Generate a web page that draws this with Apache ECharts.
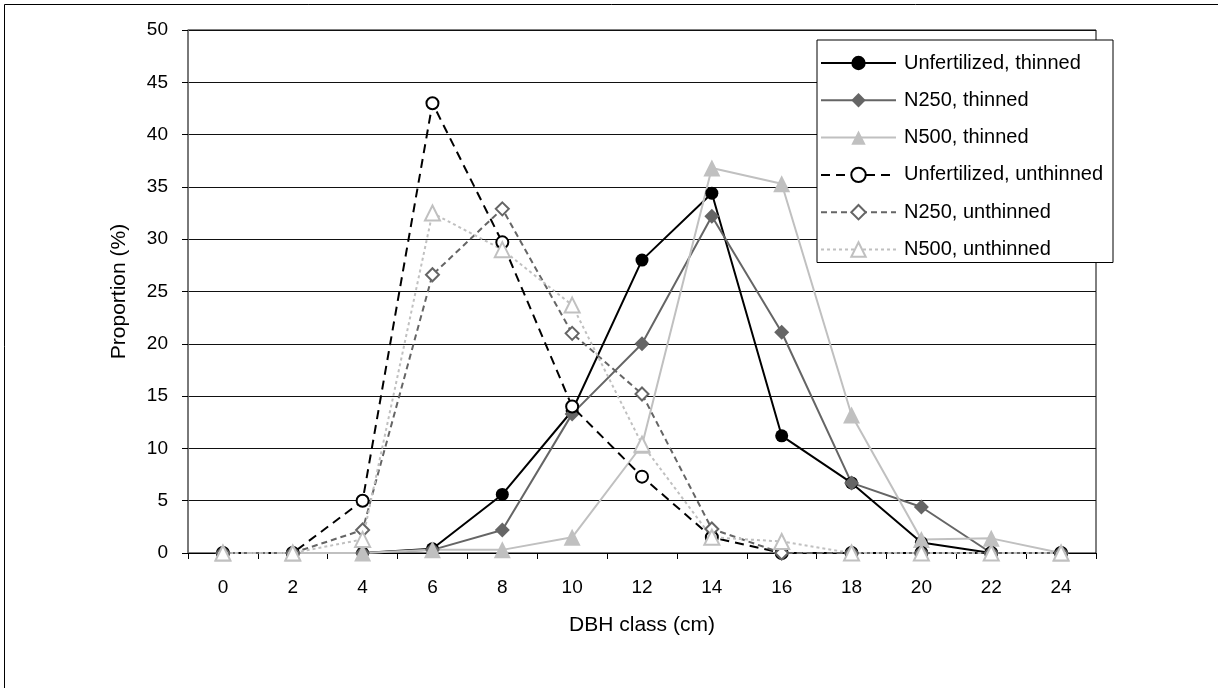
<!DOCTYPE html>
<html><head><meta charset="utf-8">
<script src="https://cdn.jsdelivr.net/npm/echarts@6/dist/echarts.min.js"></script>
<style>html,body{margin:0;padding:0;background:#fff}#c{width:1218px;height:688px}</style>
</head><body><div id="c"></div>
<script>
const categories = ['0','2','4','6','8','10','12','14','16','18','20','22','24'];
const unfertThinned   = [0, 0, 0, 0.4, 5.6, 13.6, 28, 34.4, 11.2, 6.7, 1.0, 0, 0];
const n250Thinned     = [0, 0, 0, 0.3, 2.2, 13.3, 20, 32.2, 21.1, 6.7, 4.4, 0, 0];
const n500Thinned     = [0, 0, 0, 0.3, 0.3, 1.5, 10.3, 36.8, 35.3, 13.2, 1.3, 1.4, 0];
const unfertUnthinned = [0, 0, 5.0, 43.0, 29.7, 14.0, 7.3, 1.5, 0, 0, 0, 0, 0];
const n250Unthinned   = [0, 0, 2.2, 26.6, 32.9, 21.0, 15.2, 2.3, 0, 0, 0, 0, 0];
const n500Unthinned   = [0, 0, 1.3, 32.5, 29.0, 23.7, 10.4, 1.5, 1.1, 0, 0, 0, 0];
const seriesNames = ['Unfertilized, thinned','N250, thinned','N500, thinned','Unfertilized, unthinned','N250, unthinned','N500, unthinned'];

const FONT = 'Liberation Sans, Arial, sans-serif';
const chart = echarts.init(document.getElementById('c'));
function mk(name, data, color, lineType, symbol, size, open) {
  return {
    name, type: 'line', data, symbol, symbolSize: size, showSymbol: true,
    lineStyle: { color, width: 2, type: lineType },
    itemStyle: open ? { color: '#fff', borderColor: color, borderWidth: 2 } : { color, borderColor: color, borderWidth: 0 },
    emphasis: { disabled: true }, animation: false, z: open ? 3 : 2
  };
}
chart.setOption({
  animation: false,
  backgroundColor: '#fff',
  textStyle: { fontFamily: FONT },
  graphic: [{ type: 'rect', shape: { x: 4.5, y: 4.5, width: 1230, height: 700 }, style: { fill: 'none', stroke: '#000', lineWidth: 1 }, silent: true }],
  grid: { left: 188, right: 122, top: 30, bottom: 135, show: true, borderColor: '#000', borderWidth: 1, backgroundColor: 'transparent' },
  legend: {
    orient: 'vertical', left: 817, top: 40,
    backgroundColor: '#fff', borderColor: '#000', borderWidth: 1,
    padding: [13, 10, 3, 3], itemWidth: 75, itemHeight: 18, itemGap: 17.3,
    textStyle: { fontFamily: FONT, fontSize: 20, color: '#000', padding: [0, 0, 0, 3] },
    data: seriesNames
  },
  xAxis: {
    type: 'category', data: categories, boundaryGap: true,
    name: 'DBH class (cm)', nameLocation: 'middle', nameGap: 62,
    nameTextStyle: { fontFamily: FONT, fontSize: 21, color: '#000' },
    axisLine: { lineStyle: { color: '#000', width: 1 } },
    axisTick: { show: true, inside: false, length: 6, lineStyle: { color: '#000' } },
    axisLabel: { fontFamily: FONT, fontSize: 19, color: '#000', margin: 25 },
    splitLine: { show: false }
  },
  yAxis: {
    type: 'value', min: 0, max: 50, interval: 5,
    name: 'Proportion (%)', nameLocation: 'middle', nameGap: 58,
    nameTextStyle: { fontFamily: FONT, fontSize: 21, color: '#000' },
    axisLine: { show: true, lineStyle: { color: '#777', width: 1.5 } },
    axisTick: { show: true, length: 6, lineStyle: { color: '#000' } },
    axisLabel: { fontFamily: FONT, fontSize: 19, color: '#000', margin: 20 },
    splitLine: { show: true, lineStyle: { color: '#111', width: 1 } }
  },
  series: [
    mk(seriesNames[0], unfertThinned, '#000000', 'solid', 'circle', 13, false),
    mk(seriesNames[1], n250Thinned, '#656565', 'solid', 'diamond', 15, false),
    mk(seriesNames[2], n500Thinned, '#c0c0c0', 'solid', 'triangle', 17, false),
    mk(seriesNames[3], unfertUnthinned, '#000000', [9, 6], 'circle', 12, true),
    mk(seriesNames[4], n250Unthinned, '#656565', [6, 4], 'diamond', 13, true),
    mk(seriesNames[5], n500Unthinned, '#c0c0c0', [3, 3], 'triangle', 15, true)
  ]
});
</script></body></html>
